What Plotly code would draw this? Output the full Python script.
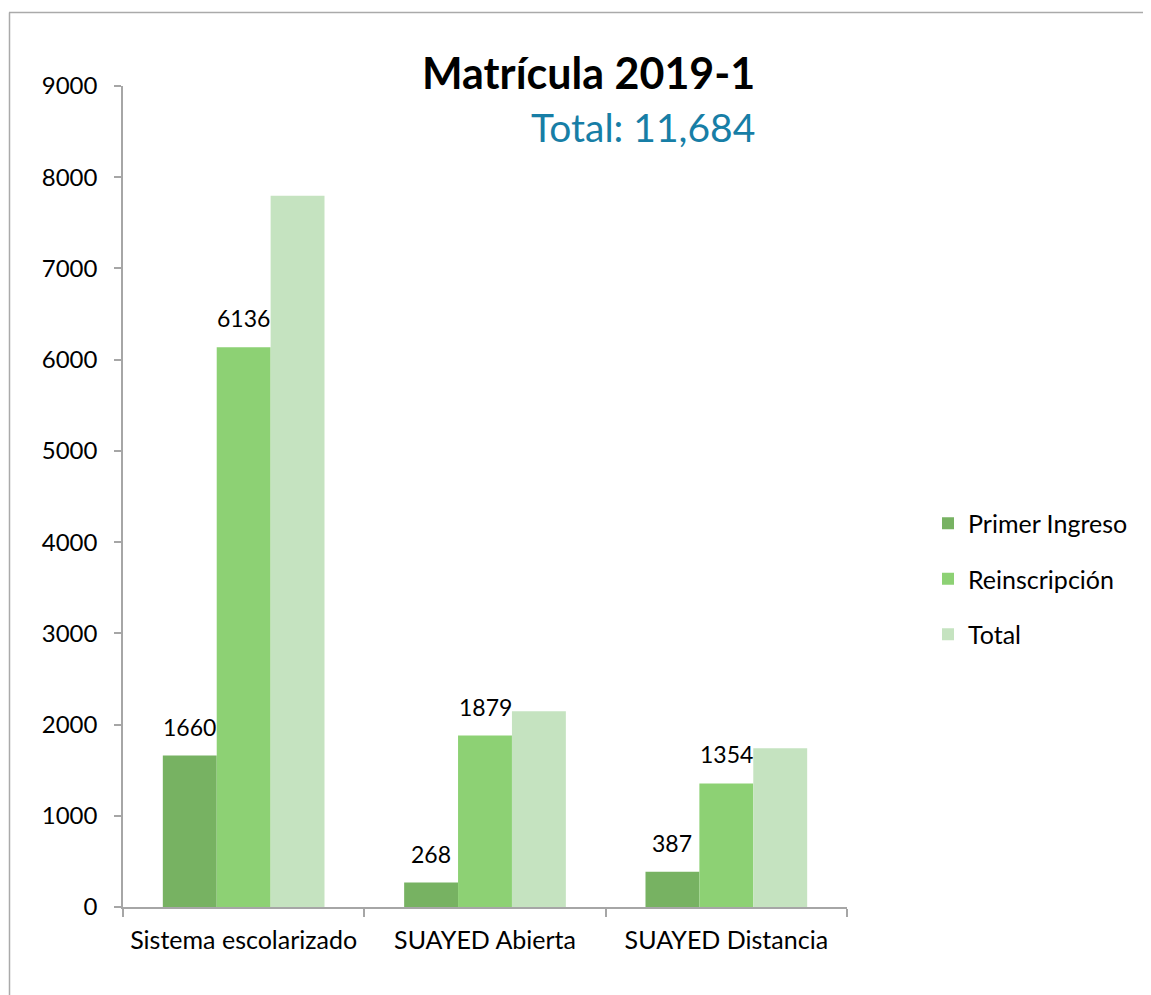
import plotly.graph_objects as go

categories = ["Sistema escolarizado", "SUAYED Abierta", "SUAYED Distancia"]
primer_ingreso = [1660, 268, 387]
reinscripcion = [6136, 1879, 1354]
total = [7796, 2147, 1741]
series_names = ["Primer Ingreso", "Reinscripción", "Total"]
colors = ["#77B262", "#8DD174", "#C5E3C0"]
y_ticks = [0, 1000, 2000, 3000, 4000, 5000, 6000, 7000, 8000, 9000]
title_text = "Matrícula 2019-1"
subtitle_text = "Total: 11,684"

FONT = "Lato"
OFF = 8  # page body margin
W, H = 1143, 987
ml, mt = 123 - OFF, 86 - OFF
pw, ph = 724, 821
mr = W - ml - pw
mb = H - mt - ph
bargap = 0.33

fig = go.Figure()
series = [primer_ingreso, reinscripcion, total]
for i, (name, vals, col) in enumerate(zip(series_names, series, colors)):
    fig.add_trace(go.Bar(
        x=categories, y=vals, name=name, marker=dict(color=col, line=dict(width=0)),
        legendgroup=name, hoverinfo="x+y+name"))

# value labels on first two series
w = (1 - bargap) / 3
for s, vals in enumerate([primer_ingreso, reinscripcion]):
    for ci, v in enumerate(vals):
        fig.add_annotation(x=ci + (s - 1) * w, y=v, xref="x", yref="y", text=str(v),
                           showarrow=False, yanchor="bottom", yshift=13,
                           font=dict(family=FONT, size=23, color="#000000"))

def px(xp):
    return (xp - OFF - ml) / pw
def py(yp):
    return (H - mb - (yp - OFF)) / ph

fig.add_annotation(x=px(757), y=py(72), xref="paper", yref="paper", text="<b>" + title_text + "</b>",
                   showarrow=False, xanchor="right", yanchor="middle",
                   font=dict(family=FONT, size=43, color="#000000"))
fig.add_annotation(x=px(757), y=py(127), xref="paper", yref="paper", text=subtitle_text,
                   showarrow=False, xanchor="right", yanchor="middle",
                   font=dict(family=FONT, size=39, color="#177EA6"))

# frame lines (top and left)
fig.add_shape(type="line", xref="paper", yref="paper", x0=px(9), x1=px(1170), y0=py(12.5), y1=py(12.5),
              line=dict(color="#AAAAAA", width=1.5))
fig.add_shape(type="line", xref="paper", yref="paper", x0=px(9.5), x1=px(9.5), y0=py(12.5), y1=py(1010),
              line=dict(color="#AAAAAA", width=1.5))

fig.update_layout(
    width=W, height=H,
    margin=dict(l=ml, r=mr, t=mt, b=mb),
    paper_bgcolor="white", plot_bgcolor="white",
    barmode="group", bargap=bargap, bargroupgap=0,
    font=dict(family=FONT, size=24, color="#000000"),
    showlegend=True,
    legend=dict(x=px(928), y=py(579), xanchor="left", yanchor="middle",
                font=dict(family=FONT, size=25), tracegroupgap=20,
                bgcolor="rgba(0,0,0,0)"),
    xaxis=dict(showline=True, linecolor="#A6A6A6", linewidth=1.5, ticks="outside",
               tickson="boundaries", ticklen=8, tickcolor="#A6A6A6", tickwidth=1.5,
               showgrid=False, tickfont=dict(family=FONT, size=25), range=[-0.5, 2.5],
               ticklabelstandoff=10),
    yaxis=dict(showline=True, linecolor="#A6A6A6", linewidth=1.5, ticks="outside",
               ticklen=7, tickcolor="#A6A6A6", tickwidth=1.5, showgrid=False, zeroline=False,
               range=[0, 9000], tickvals=y_ticks, tickfont=dict(family=FONT, size=24),
               ticklabelstandoff=12),
)

fig.write_html("out.html")
